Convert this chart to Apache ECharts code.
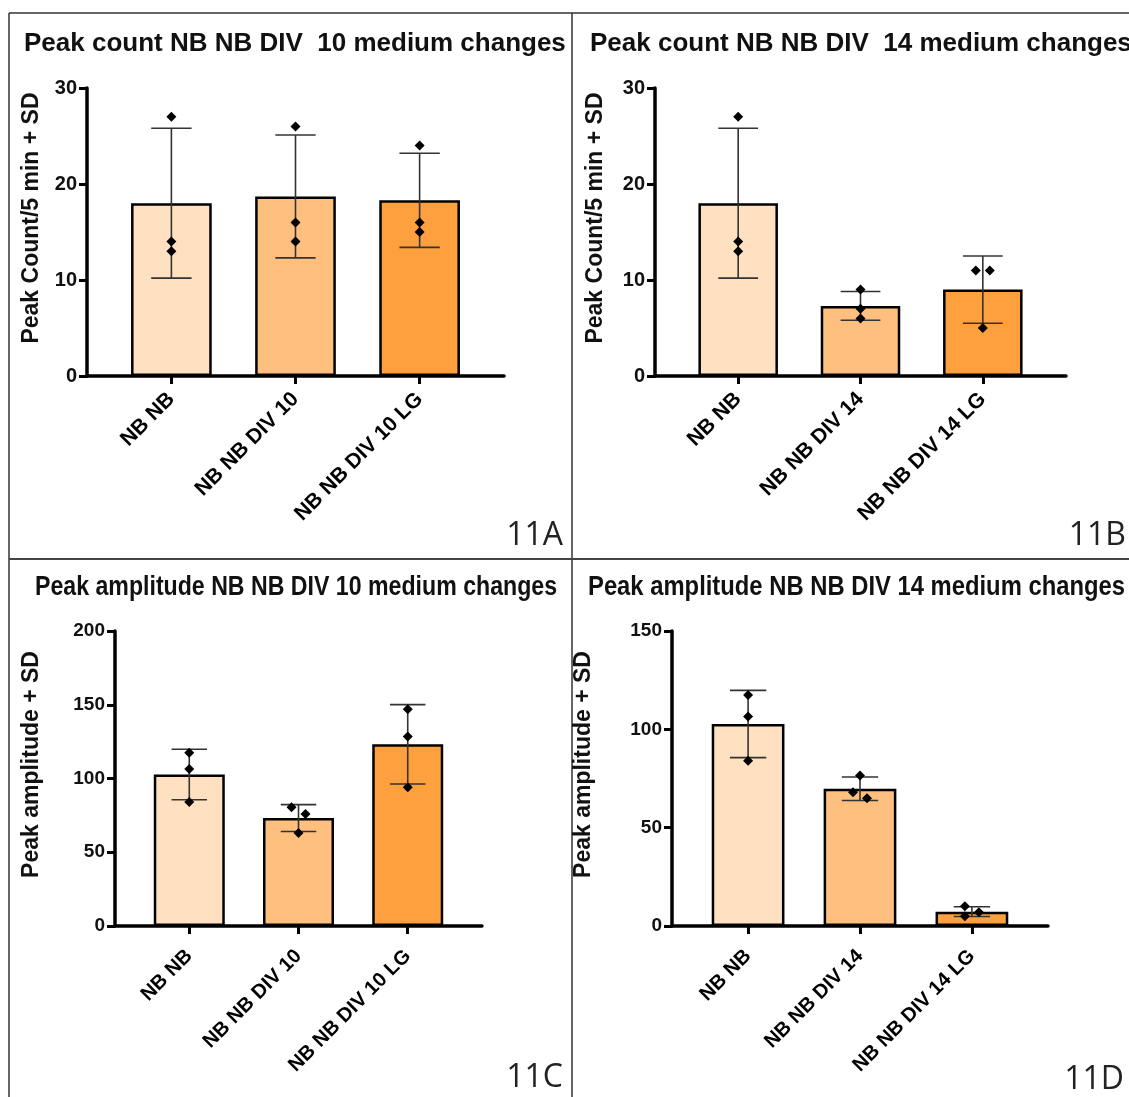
<!DOCTYPE html>
<html>
<head>
<meta charset="utf-8">
<script src="https://cdn.jsdelivr.net/npm/echarts@6/dist/echarts.min.js"></script>
<style>
  html, body { margin: 0; padding: 0; background: #fff; }
  #chart { width: 1129px; height: 1097px; }
</style>
</head>
<body>
<div id="chart"></div>
<script>
// ---- Data -------------------------------------------------------------
// 11A: peak count, DIV 10 medium changes
const catsA = ['NB NB', 'NB NB DIV 10', 'NB NB DIV 10 LG'];
const pointsA = [[27, 14, 13], [26, 16, 14], [24, 16, 15]];
const meanA = [18.0, 18.7, 18.3];
const sdA = [7.8, 6.4, 4.9];

// 11B: peak count, DIV 14 medium changes
const catsB = ['NB NB', 'NB NB DIV 14', 'NB NB DIV 14 LG'];
const pointsB = [[27, 14, 13], [9, 7, 6], [11, 11, 5]];
const meanB = [18.0, 7.3, 9.0];
const sdB = [7.8, 1.5, 3.5];

// 11C: peak amplitude, DIV 10 medium changes
const catsC = ['NB NB', 'NB NB DIV 10', 'NB NB DIV 10 LG'];
const pointsC = [[117.5, 106.5, 84], [80.5, 76, 63], [147, 128.5, 94]];
const meanC = [102.7, 73.2, 123.2];
const sdC = [17.1, 9.1, 26.9];

// 11D: peak amplitude, DIV 14 medium changes
const catsD = ['NB NB', 'NB NB DIV 14', 'NB NB DIV 14 LG'];
const pointsD = [[117.5, 106.5, 84], [76.5, 68, 65], [10, 7, 5]];
const meanD = [102.7, 69.8, 7.3];
const sdD = [17.1, 6.0, 2.5];

// y-axis tick values
const ticksCount = [0, 10, 20, 30];
const ticksAmpC = [0, 50, 100, 150, 200];
const ticksAmpD = [0, 50, 100, 150];

// ---- Styling ----------------------------------------------------------
const barColors = ['#FFE0C0', '#FFC07F', '#FFA03F'];
const SANS = 'Liberation Sans';
const X_MIN = -0.68, X_MAX = 2.68, BAR_FRAC = 0.65;

// Condensed titles: the bold face is squeezed horizontally to a set width.
const measureCtx = document.createElement('canvas').getContext('2d');
function textWidth(text, size) {
  measureCtx.font = 'bold ' + size + 'px "' + SANS + '"';
  return measureCtx.measureText(text).width;
}

const panels = [
  { title: 'Peak count NB NB DIV  10 medium changes', yName: 'Peak Count/5 min + SD',
    cats: catsA, pts: pointsA, mean: meanA, sd: sdA, ticks: ticksCount,
    grid: { left: 87, top: 88, width: 417, height: 288 },
    titleAt: [24, 44], titleSize: 26, titleWidth: 0,
    tickSize: 20, catSize: 21, catMargin: 20, nameGap: 44,
    tag: '11A', tagAt: [563, 552] },
  { title: 'Peak count NB NB DIV  14 medium changes', yName: 'Peak Count/5 min + SD',
    cats: catsB, pts: pointsB, mean: meanB, sd: sdB, ticks: ticksCount,
    grid: { left: 655, top: 88, width: 411, height: 288 },
    titleAt: [590, 44], titleSize: 26, titleWidth: 0,
    tickSize: 20, catSize: 21, catMargin: 20, nameGap: 48,
    tag: '11B', tagAt: [1126, 552] },
  { title: 'Peak amplitude NB NB DIV 10 medium changes', yName: 'Peak amplitude + SD',
    cats: catsC, pts: pointsC, mean: meanC, sd: sdC, ticks: ticksAmpC,
    grid: { left: 115, top: 631, width: 367, height: 295 },
    titleAt: [35, 587], titleSize: 28, titleWidth: 522,
    tickSize: 19, catSize: 20, catMargin: 27, nameGap: 72,
    tag: '11C', tagAt: [563, 1094] },
  { title: 'Peak amplitude NB NB DIV 14 medium changes', yName: 'Peak amplitude + SD',
    cats: catsD, pts: pointsD, mean: meanD, sd: sdD, ticks: ticksAmpD,
    grid: { left: 672, top: 631, width: 376, height: 295 },
    titleAt: [588, 587], titleSize: 28, titleWidth: 537,
    tickSize: 19, catSize: 20, catMargin: 27, nameGap: 77,
    tag: '11D', tagAt: [1124, 1096] }
];

// ---- Renderers --------------------------------------------------------
// Mean ± SD whisker with caps half as wide as the bar.
function renderErrorBar(params, api) {
  const x = api.value(0), m = api.value(1), s = api.value(2);
  const top = api.coord([x, m + s]);
  const bot = api.coord([x, m - s]);
  const half = api.size([1, 0])[0] * BAR_FRAC / 4;
  const st = { stroke: '#333', lineWidth: 1.6 };
  return {
    type: 'group',
    children: [
      { type: 'line', shape: { x1: top[0], y1: top[1], x2: bot[0], y2: bot[1] }, style: st },
      { type: 'line', shape: { x1: top[0] - half, y1: top[1], x2: top[0] + half, y2: top[1] }, style: st },
      { type: 'line', shape: { x1: bot[0] - half, y1: bot[1], x2: bot[0] + half, y2: bot[1] }, style: st }
    ]
  };
}

// Individual replicates as diamonds; overlapping points are spread sideways.
function renderPoints(params, api) {
  const x = api.value(0);
  const pos = [];
  for (let k = 1; k <= 3; k++) pos.push(api.coord([x, api.value(k)]));
  const order = pos.map((p, k) => k).sort((a, b) => pos[a][1] - pos[b][1]);
  const r = 5, step = 7, minGap = 8.5;
  const off = pos.map(() => 0);
  let cluster = [order[0]];
  const spread = () => {
    if (cluster.length > 1) cluster.forEach((k, j) => { off[k] = j % 2 === 0 ? -step : step; });
  };
  for (let j = 1; j < order.length; j++) {
    const prev = order[j - 1], cur = order[j];
    if (pos[cur][1] - pos[prev][1] < minGap) cluster.push(cur);
    else { spread(); cluster = [cur]; }
  }
  spread();
  return {
    type: 'group',
    children: pos.map((p, k) => {
      const cx = p[0] + off[k], cy = p[1];
      return {
        type: 'polygon',
        shape: { points: [[cx, cy - r], [cx + r, cy], [cx, cy + r], [cx - r, cy]] },
        style: { fill: '#000' }
      };
    })
  };
}

// ---- Option -----------------------------------------------------------
const option = {
  animation: false,
  backgroundColor: '#fff',
  grid: [], xAxis: [], yAxis: [], series: [],
  graphic: [
    { type: 'line', shape: { x1: 9, y1: 13, x2: 1129, y2: 13 }, style: { stroke: '#333', lineWidth: 1.5 } },
    { type: 'line', shape: { x1: 9, y1: 13, x2: 9, y2: 1097 }, style: { stroke: '#333', lineWidth: 1.5 } },
    { type: 'line', shape: { x1: 572, y1: 13, x2: 572, y2: 1097 }, style: { stroke: '#333', lineWidth: 1.5 } },
    { type: 'line', shape: { x1: 9, y1: 559, x2: 1129, y2: 559 }, style: { stroke: '#444', lineWidth: 2 } }
  ]
};

panels.forEach((p, i) => {
  const barWidth = p.grid.width / (X_MAX - X_MIN) * BAR_FRAC;
  const idx = p.cats.map((c, k) => k);

  const scaleX = p.titleWidth ? p.titleWidth / textWidth(p.title, p.titleSize) : 1;
  option.graphic.push({
    type: 'text', x: p.titleAt[0], y: p.titleAt[1], scaleX: scaleX,
    style: {
      text: p.title, fontFamily: SANS, fontWeight: 'bold', fontSize: p.titleSize,
      fill: '#111', align: 'left', verticalAlign: 'middle'
    }
  });
  option.grid.push(Object.assign({ containLabel: false }, p.grid));

  option.xAxis.push({
    type: 'value', gridIndex: i, min: X_MIN, max: X_MAX,
    axisLine: { show: true, onZero: false, lineStyle: { color: '#000', width: 3.5 } },
    axisTick: { show: true, customValues: idx, length: 8, lineStyle: { color: '#000', width: 3 } },
    axisLabel: {
      customValues: idx, rotate: 45, margin: p.catMargin,
      formatter: v => p.cats[Math.round(v)],
      fontFamily: SANS, fontWeight: 'bold', fontSize: p.catSize, color: '#000'
    },
    splitLine: { show: false }
  });

  const t = p.ticks;
  option.yAxis.push({
    type: 'value', gridIndex: i, min: t[0], max: t[t.length - 1], interval: t[1] - t[0],
    name: p.yName, nameLocation: 'middle', nameRotate: 90, nameGap: p.nameGap,
    nameTextStyle: { fontFamily: SANS, fontWeight: 'bold', fontSize: 23, color: '#111', padding: [0, 0, 0, 28] },
    axisLine: { show: true, onZero: false, lineStyle: { color: '#000', width: 3.5 } },
    axisTick: { show: true, length: 8, lineStyle: { color: '#000', width: 3 } },
    axisLabel: { fontFamily: SANS, fontWeight: 'bold', fontSize: p.tickSize, color: '#111', margin: 10 },
    splitLine: { show: false }
  });

  option.series.push({
    type: 'bar', xAxisIndex: i, yAxisIndex: i, barWidth: barWidth,
    data: p.mean.map((v, k) => ({ value: [k, v], itemStyle: { color: barColors[k] } })),
    itemStyle: { borderColor: '#000', borderWidth: 2.5 },
    z: 2
  });
  option.series.push({
    type: 'custom', xAxisIndex: i, yAxisIndex: i, renderItem: renderErrorBar,
    encode: { x: 0, y: 1 },
    data: p.mean.map((v, k) => [k, v, p.sd[k]]),
    z: 3
  });
  option.series.push({
    type: 'custom', xAxisIndex: i, yAxisIndex: i, renderItem: renderPoints,
    encode: { x: 0, y: [1, 2, 3] },
    data: p.pts.map((arr, k) => [k].concat(arr)),
    z: 4
  });

  option.graphic.push({
    type: 'text', x: p.tagAt[0], y: p.tagAt[1],
    style: { text: p.tag, fontFamily: '"Open Sans"', fontSize: 32, fill: '#222', align: 'right', verticalAlign: 'bottom' }
  });
});

const chart = echarts.init(document.getElementById('chart'), null, { renderer: 'canvas' });
chart.setOption(option);
</script>
</body>
</html>
